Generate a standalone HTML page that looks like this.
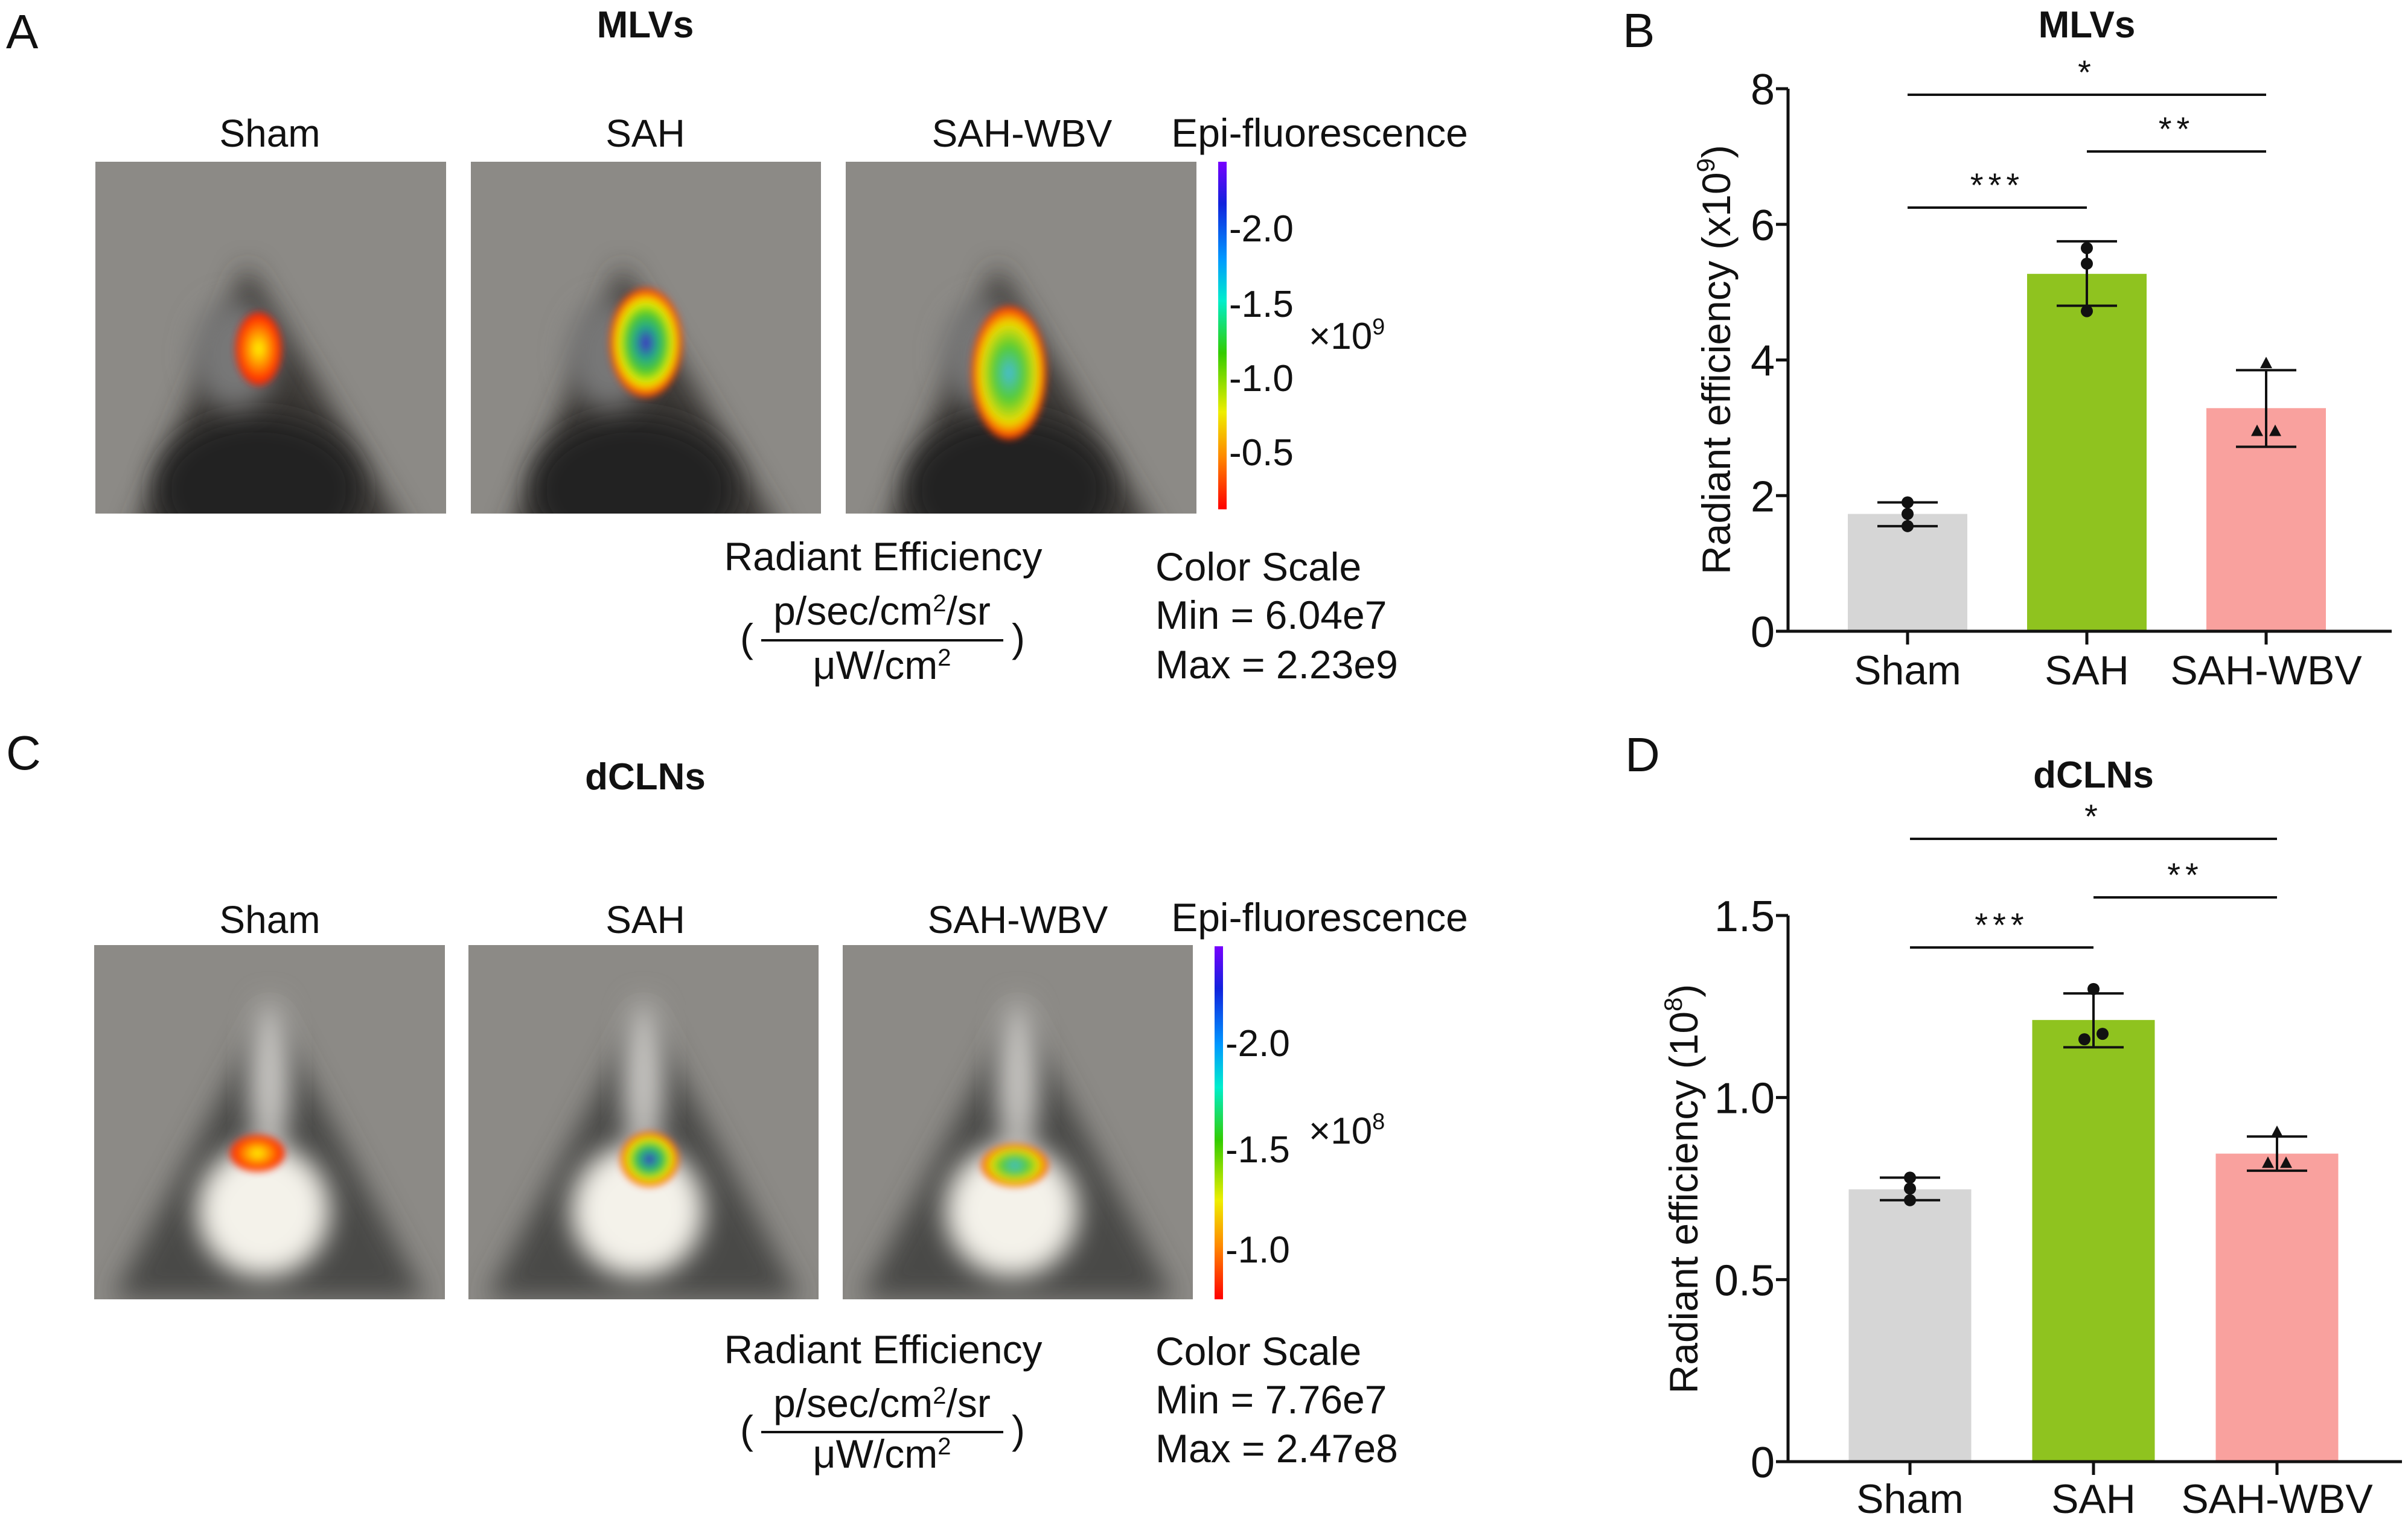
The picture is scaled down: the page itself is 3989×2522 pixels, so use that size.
<!DOCTYPE html>
<html><head><meta charset="utf-8"><style>
html,body{margin:0;padding:0;background:#fff}
svg{display:block}
text{font-family:"Liberation Sans",Arial,sans-serif;fill:#111}
</style></head><body>
<svg id="fig" width="3989" height="2522" viewBox="0 0 3989 2522" xmlns="http://www.w3.org/2000/svg">
<defs>
<filter id="blur" x="-50%" y="-50%" width="200%" height="200%"><feGaussianBlur stdDeviation="22"/></filter>
<filter id="blur2" x="-50%" y="-50%" width="200%" height="200%"><feGaussianBlur stdDeviation="6"/></filter>
<linearGradient id="cbar" x1="0" y1="1" x2="0" y2="0">
<stop offset="0" stop-color="#f00"/><stop offset="0.15" stop-color="#f80"/><stop offset="0.28" stop-color="#ee0"/>
<stop offset="0.45" stop-color="#3c0"/><stop offset="0.6" stop-color="#0ec"/><stop offset="0.72" stop-color="#09f"/>
<stop offset="0.88" stop-color="#12d"/><stop offset="1" stop-color="#70f"/></linearGradient>
<radialGradient id="hotA"><stop offset="0" stop-color="#ff0"/><stop offset="0.5" stop-color="#f80"/><stop offset="1" stop-color="#f10"/></radialGradient>
<radialGradient id="hotB"><stop offset="0" stop-color="#42c"/><stop offset="0.3" stop-color="#2a8"/><stop offset="0.55" stop-color="#5c2"/><stop offset="0.75" stop-color="#ee0"/><stop offset="1" stop-color="#f20"/></radialGradient>
<radialGradient id="hotC"><stop offset="0" stop-color="#4bd"/><stop offset="0.4" stop-color="#5c3"/><stop offset="0.75" stop-color="#ed0"/><stop offset="1" stop-color="#f20"/></radialGradient>
</defs>

<!-- Panel A -->
<text x="10" y="80" font-size="80">A</text>
<text x="1069" y="62" font-size="62" font-weight="bold" text-anchor="middle">MLVs</text>
<g id="rowA"></g>
<text x="447" y="243" font-size="64" text-anchor="middle">Sham</text>
<text x="1069" y="243" font-size="64" text-anchor="middle">SAH</text>
<text x="1693" y="243" font-size="64" text-anchor="middle">SAH-WBV</text>
<text x="2186" y="243" font-size="66" text-anchor="middle">Epi-fluorescence</text>
<rect x="2018" y="268" width="14" height="576" fill="url(#cbar)"/>
<g font-size="62">
<text x="2036" y="400">-2.0</text>
<text x="2036" y="525">-1.5</text>
<text x="2036" y="648">-1.0</text>
<text x="2036" y="771">-0.5</text>
<text x="2168" y="578">×10<tspan font-size="38" dy="-24">9</tspan></text>
</g>
<g font-size="66">
<text x="1463" y="945" text-anchor="middle">Radiant Efficiency</text>
<text x="1461" y="1035" text-anchor="middle">p/sec/cm<tspan font-size="40" dy="-22">2</tspan><tspan dy="22">/sr</tspan></text>
<line x1="1261" y1="1061" x2="1662" y2="1061" stroke="#111" stroke-width="4"/>
<text x="1461" y="1125" text-anchor="middle">μW/cm<tspan font-size="40" dy="-22">2</tspan></text>
<text x="1226" y="1080">(</text>
<text x="1676" y="1080">)</text>
<text x="1914" y="962">Color Scale</text>
<text x="1914" y="1042">Min = 6.04e7</text>
<text x="1914" y="1124">Max = 2.23e9</text>
</g>

<!-- Panel C -->
<text x="10" y="1275" font-size="80">C</text>
<text x="1069" y="1308" font-size="62" font-weight="bold" text-anchor="middle">dCLNs</text>
<g id="rowC"></g>
<text x="447" y="1546" font-size="64" text-anchor="middle">Sham</text>
<text x="1069" y="1546" font-size="64" text-anchor="middle">SAH</text>
<text x="1686" y="1546" font-size="64" text-anchor="middle">SAH-WBV</text>
<text x="2186" y="1543" font-size="66" text-anchor="middle">Epi-fluorescence</text>
<rect x="2012" y="1568" width="14" height="585" fill="url(#cbar)"/>
<g font-size="62">
<text x="2030" y="1750">-2.0</text>
<text x="2030" y="1926">-1.5</text>
<text x="2030" y="2092">-1.0</text>
<text x="2168" y="1895">×10<tspan font-size="38" dy="-24">8</tspan></text>
</g>
<g font-size="66">
<text x="1463" y="2259" text-anchor="middle">Radiant Efficiency</text>
<text x="1461" y="2348" text-anchor="middle">p/sec/cm<tspan font-size="40" dy="-22">2</tspan><tspan dy="22">/sr</tspan></text>
<line x1="1261" y1="2373" x2="1662" y2="2373" stroke="#111" stroke-width="4"/>
<text x="1461" y="2432" text-anchor="middle">μW/cm<tspan font-size="40" dy="-22">2</tspan></text>
<text x="1226" y="2392">(</text>
<text x="1676" y="2392">)</text>
<text x="1914" y="2262">Color Scale</text>
<text x="1914" y="2342">Min = 7.76e7</text>
<text x="1914" y="2423">Max = 2.47e8</text>
</g>

<text x="2688" y="78" font-size="80">B</text>
<text x="2692" y="1278" font-size="80">D</text>
<g id="chartB"></g>
<g id="chartD"></g>
</svg>
<script>
// ---- Chart B data (MLVs, x10^9) ----
const categoriesB = ["Sham", "SAH", "SAH-WBV"];
const meansB = [1.73, 5.27, 3.29];
const errHighB = [1.9, 5.75, 3.85];
const errLowB = [1.55, 4.8, 2.72];
const pointsB = [[1.9, 1.73, 1.55], [5.65, 5.42, 4.72], [3.95, 2.95, 2.95]];
const ticksB = [0, 2, 4, 6, 8];
const tickLabelsB = ["0", "2", "4", "6", "8"];
// ---- Chart D data (dCLNs, 10^8) ----
const categoriesD = ["Sham", "SAH", "SAH-WBV"];
const meansD = [0.748, 1.213, 0.846];
const errHighD = [0.78, 1.286, 0.893];
const errLowD = [0.718, 1.138, 0.799];
const pointsD = [[0.78, 0.75, 0.718], [1.298, 1.175, 1.16], [0.905, 0.82, 0.82]];
const ticksD = [0, 0.5, 1.0, 1.5];
const tickLabelsD = ["0", "0.5", "1.0", "1.5"];
const sigLabels = ["*", "**", "***"];

const NS = "http://www.w3.org/2000/svg";
function mk(parent, tag, attrs, txt) {
  const e = document.createElementNS(NS, tag);
  for (const k in attrs) e.setAttribute(k, attrs[k]);
  if (txt !== undefined) e.textContent = txt;
  parent.appendChild(e);
  return e;
}
const colors = ["#d6d6d6", "#8fc31f", "#f9a19e"];

function drawChart(g, cfg, cats, means, hi, lo, pts, ticks, tlabels) {
  const y = v => cfg.y0 - (v - 0) / cfg.vmax * (cfg.y0 - cfg.ytop);
  const xc = i => cfg.x0 + cfg.firstC + i * cfg.step;
  for (let i = 0; i < cats.length; i++) {
    const r = mk(g, "rect", {x: xc(i) - cfg.bw / 2, y: y(means[i]), width: cfg.bw, height: cfg.y0 - y(means[i]), fill: colors[i]});
    
    
  }
  const ya = mk(g, "line", {x1: cfg.x0, y1: y(ticks[ticks.length - 1]) , x2: cfg.x0, y2: cfg.y0 + 2, stroke: "#111", "stroke-width": 5});
  
  
  const xa = mk(g, "line", {x1: cfg.x0 - 2, y1: cfg.y0, x2: cfg.xend, y2: cfg.y0, stroke: "#111", "stroke-width": 5});
  
  
  for (let t = 0; t < ticks.length; t++) {
    const ty = y(ticks[t]);
    const tl = mk(g, "line", {x1: cfg.x0 - 20, y1: ty, x2: cfg.x0, y2: ty, stroke: "#111", "stroke-width": 5});
    
    
    const tt = mk(g, "text", {x: cfg.x0 - 22, y: ty + 26, "font-size": 72, "text-anchor": "end"}, tlabels[t]);
    
    
  }
  for (let i = 0; i < cats.length; i++) {
    const tk = mk(g, "line", {x1: xc(i), y1: cfg.y0, x2: xc(i), y2: cfg.y0 + 22, stroke: "#111", "stroke-width": 5});
    
    
    const lb = mk(g, "text", {x: xc(i), y: cfg.y0 + cfg.labOff, "font-size": 68, "text-anchor": "middle"}, cats[i]);
    
    
  }
  for (let i = 0; i < cats.length; i++) {
    const c = xc(i);
    const ev = mk(g, "line", {x1: c, y1: y(hi[i]), x2: c, y2: y(lo[i]), stroke: "#111", "stroke-width": 4});
    
    
    [hi[i], lo[i]].forEach(v => {
      const cap = mk(g, "line", {x1: c - 50, y1: y(v), x2: c + 50, y2: y(v), stroke: "#111", "stroke-width": 4});
      
      
    });
    const p = pts[i];
    for (let j = 0; j < p.length; j++) {
      let dx = 0;
      if (i === 2) dx = j === 0 ? 0 : (j === 1 ? -15 : 15);
      if (i === 1 && cfg.spread && j > 0) dx = j === 1 ? 15 : -15;
      const py = y(p[j]);
      let m;
      if (i === 2) m = mk(g, "polygon", {points: (c+dx)+","+(py-11)+" "+(c+dx-10)+","+(py+8)+" "+(c+dx+10)+","+(py+8), fill: "#111"});
      else m = mk(g, "circle", {cx: c + dx, cy: py, r: 10, fill: "#111"});
      
      
    }
  }
  const sig = [[0, 2, cfg.s1], [1, 2, cfg.s2], [0, 1, cfg.s3]];
  for (let k = 0; k < 3; k++) {
    const [a, b, sy] = sig[k];
    const l = mk(g, "line", {x1: xc(a), y1: sy, x2: xc(b), y2: sy, stroke: "#111", "stroke-width": 4});
    
    
    const s = mk(g, "text", {x: (xc(a) + xc(b)) / 2, y: sy - 18, "font-size": 56, "text-anchor": "middle", "letter-spacing": 8}, sigLabels[k]);
    
    
  }
  const ti = mk(g, "text", {x: cfg.titleX, y: cfg.titleY, "font-size": 62, "font-weight": "bold", "text-anchor": "middle"}, cfg.title);
  
  
  const yt = mk(g, "text", {x: 0, y: 0, "font-size": 66, "text-anchor": "middle", transform: "translate(" + cfg.ytX + "," + cfg.ytY + ") rotate(-90)"}, "Radiant efficiency ");
  mk(yt, "tspan", {}, cfg.ytPre + "10");
  mk(yt, "tspan", {"font-size": 42, dy: -26}, cfg.exp);
  mk(yt, "tspan", {dy: 26}, ")");
  
  
}

drawChart(document.getElementById("chartB"),
  {x0: 2962, y0: 1046, ytop: 147, vmax: 8, xend: 3962, firstC: 198, step: 297, bw: 198, labOff: 88,
   s1: 157, s2: 251, s3: 344, title: "MLVs", titleX: 3457, titleY: 62, ytX: 2866, ytY: 596, ytPre: "(x", exp: "9", spread: false},
  categoriesB, meansB, errHighB, errLowB, pointsB, ticksB, tickLabelsB);
drawChart(document.getElementById("chartD"),
  {x0: 2962, y0: 2422, ytop: 1517, vmax: 1.5, xend: 3979, firstC: 202, step: 304, bw: 203, labOff: 85,
   s1: 1390, s2: 1487, s3: 1570, title: "dCLNs", titleX: 3468, titleY: 1305, ytX: 2812, ytY: 1970, ytPre: "(", exp: "8", spread: true},
  categoriesD, meansD, errHighD, errLowD, pointsD, ticksD, tickLabelsD);

function mouse(parent, x, y, w, h, top, hot, name) {
  const g = mk(parent, "g", {});
  
  
  const cx = x + w / 2;
  mk(g, "rect", {x: x, y: y, width: w, height: h, fill: "#8c8a86"});
  const cp = mk(g, "clipPath", {id: "cp" + name});
  mk(cp, "rect", {x: x, y: y, width: w, height: h});
  const inner = mk(g, "g", {"clip-path": "url(#cp" + name + ")"});
  if (top) {
    mk(inner, "path", {d: "M" + (cx - 40) + "," + (y + 170) + " L" + (cx - 230) + "," + (y + h + 40) + " L" + (cx + 230) + "," + (y + h + 40) + " Z", fill: "#3a3836", filter: "url(#blur)"});
    mk(inner, "ellipse", {cx: cx - 20, cy: y + h - 40, rx: 170, ry: 120, fill: "#232120", filter: "url(#blur)"});
    mk(inner, "ellipse", {cx: cx - 60, cy: y + 320, rx: 70, ry: 90, fill: "#777", filter: "url(#blur)"});
    mk(inner, "ellipse", {cx: cx + hot.dx, cy: y + hot.dy, rx: hot.rx, ry: hot.ry, fill: hot.fill, filter: "url(#blur2)"});
  } else {
    mk(inner, "path", {d: "M" + cx + "," + (y + 100) + " L" + (cx - 260) + "," + (y + h) + " L" + (cx + 260) + "," + (y + h) + " Z", fill: "#4a4846", filter: "url(#blur)"});
    mk(inner, "ellipse", {cx: cx, cy: y + 220, rx: 35, ry: 130, fill: "#c8c6c2", filter: "url(#blur)"});
    mk(inner, "ellipse", {cx: cx - 10, cy: y + 440, rx: 110, ry: 110, fill: "#f4f2ea", filter: "url(#blur)"});
    mk(inner, "ellipse", {cx: cx + hot.dx, cy: y + hot.dy, rx: hot.rx, ry: hot.ry, fill: hot.fill, filter: "url(#blur2)"});
  }
}
const rA = document.getElementById("rowA"), rC = document.getElementById("rowC");
mouse(rA, 158, 268, 581, 583, true, {dx: -20, dy: 310, rx: 38, ry: 60, fill: "url(#hotA)"}, "image-sham-mlvs");
mouse(rA, 780, 268, 580, 583, true, {dx: 0, dy: 300, rx: 60, ry: 90, fill: "url(#hotB)"}, "image-sah-mlvs");
mouse(rA, 1401, 268, 581, 583, true, {dx: -20, dy: 350, rx: 62, ry: 110, fill: "url(#hotC)"}, "image-sahwbv-mlvs");
mouse(rC, 156, 1566, 581, 587, false, {dx: -20, dy: 345, rx: 45, ry: 30, fill: "url(#hotA)"}, "image-sham-dclns");
mouse(rC, 776, 1566, 580, 587, false, {dx: 10, dy: 355, rx: 48, ry: 45, fill: "url(#hotB)"}, "image-sah-dclns");
mouse(rC, 1396, 1566, 580, 587, false, {dx: -5, dy: 365, rx: 55, ry: 35, fill: "url(#hotC)"}, "image-sahwbv-dclns");
</script>
</body></html>
